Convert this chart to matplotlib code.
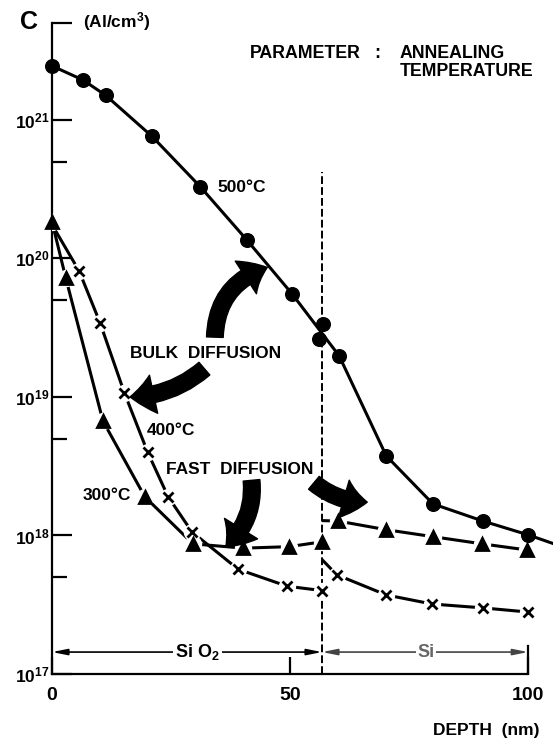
import numpy as np
import matplotlib
matplotlib.use('Agg')
import matplotlib.pyplot as plt
from matplotlib.patches import FancyArrowPatch

plt.rcParams['font.family'] = ['Liberation Sans', 'DejaVu Sans']
plt.rcParams['font.weight'] = 'bold'
plt.rcParams['mathtext.fontset'] = 'custom'
plt.rcParams['mathtext.rm'] = 'Liberation Sans:bold'
plt.rcParams['mathtext.bf'] = 'Liberation Sans:bold'
plt.rcParams['mathtext.it'] = 'Liberation Sans:bold'

# ---------------- data ----------------
interface_depth = 56.7

# 500 C (circles)
depth_500 = [0, 6.5, 11.3, 21.0, 31.1, 40.9, 50.4, 56.1, 57.0, 60.3, 70.2, 80.0, 90.5, 100.0]
conc_500 = [2.45e21, 1.94e21, 1.5e21, 7.6e20, 3.3e20, 1.36e20, 5.55e19, 2.6e19, 3.37e19,
            1.98e19, 3.75e18, 1.69e18, 1.27e18, 1.01e18]
tail_500_depth = [105.0]
tail_500_conc = [8.8e17]

# 300 C (triangles)
depth_300_ox = [0, 2.9, 10.7, 19.5, 29.6, 40.2, 49.8, 56.7]
conc_300_ox = [1.84e20, 7.2e19, 6.7e18, 1.9e18, 8.7e17, 8.1e17, 8.3e17, 9.0e17]
depth_300_si = [56.7, 60.1, 70.2, 80.0, 90.3, 99.8]
conc_300_si = [1.28e18, 1.27e18, 1.1e18, 9.8e17, 8.7e17, 7.85e17]

# 400 C (crosses)
depth_400_ox = [0, 5.7, 10.1, 15.2, 20.1, 24.4, 29.4, 39.1, 49.4, 56.7]
conc_400_ox = [1.75e20, 8.1e19, 3.42e19, 1.07e19, 3.98e18, 1.9e18, 1.06e18, 5.7e17, 4.3e17, 4.0e17]
depth_400_si = [56.7, 59.8, 70.2, 79.8, 90.5, 100.0]
conc_400_si = [6.7e17, 5.2e17, 3.72e17, 3.2e17, 3.0e17, 2.8e17]

y_major = [1e17, 1e18, 1e19, 1e20, 1e21, 5e21]
y_major_labels = ['$10^{17}$', '$10^{18}$', '$10^{19}$', '$10^{20}$', '$10^{21}$', '']
y_minor = [5e17, 5e18, 5e19, 5e20]
x_ticks = [0, 50, 100]
x_tick_labels = ['0', '50', '100']

# ---------------- figure ----------------
W, H = 553, 741
fig = plt.figure(figsize=(W / 100, H / 100), dpi=100)
ax = fig.add_axes([52 / W, 1 - 674 / H, 500 / W, (674 - 23) / H])
ax.set_yscale('log')
ax.set_xlim(0, 105)
ax.set_ylim(1e17, 5e21)

for s in ['top', 'right']:
    ax.spines[s].set_visible(False)
ax.spines['left'].set_bounds(1e17, 5e21)
ax.spines['bottom'].set_bounds(0, 100)
for s in ['left', 'bottom']:
    ax.spines[s].set_linewidth(1.6)

ax.set_yticks(y_major)
ax.set_yticklabels(y_major_labels)
ax.set_yticks(y_minor, minor=True)
ax.yaxis.set_minor_formatter(matplotlib.ticker.NullFormatter())
ax.tick_params(axis='y', which='major', direction='in', length=14.5, width=1.6,
               labelsize=12.5, pad=2)
ax.tick_params(axis='y', which='minor', direction='in', length=11, width=1.6)
ax.set_xticks(x_ticks)
ax.set_xticklabels(x_tick_labels)
ax.tick_params(axis='x', which='major', direction='in', length=12, width=1.6,
               labelsize=14, pad=9)
ax.tick_params(axis='x', which='minor', length=0)

lw = 2.2
# 500 C
d5 = np.array(depth_500)
c5 = np.array(conc_500)
mask = np.abs(d5 - interface_depth) > 1.0
ax.plot(np.r_[d5[mask], tail_500_depth], np.r_[c5[mask], tail_500_conc],
        color='black', lw=lw, zorder=2, clip_on=False)
ax.plot(d5, c5, 'o', color='black', ms=9.8, zorder=5, clip_on=False)

# 300 C and 400 C
for dx, cy, mk, ms, first_marker in [
        (depth_300_ox, conc_300_ox, '^', 8.5, 0),
        (depth_300_si, conc_300_si, '^', 8.5, 1),
        (depth_400_ox, conc_400_ox, 'x', 7.5, 1),
        (depth_400_si, conc_400_si, 'x', 7.5, 1)]:
    ax.plot(dx, cy, color='black', lw=lw, zorder=2, solid_capstyle='butt')
    ax.plot(dx[first_marker:], cy[first_marker:], 'o', color='white', ms=11.5, zorder=3)
    ax.plot(dx[first_marker:], cy[first_marker:], mk, color='black', ms=ms, mew=2.0,
            zorder=4, clip_on=False)

# interface dashed line
ax.plot([interface_depth, interface_depth], [1e17, 4.2e20], color='black', lw=1.4,
        dashes=(4, 1.6), zorder=1)

# layer brackets
ybr = 1.44e17
ax.annotate('', xy=(0, ybr), xytext=(interface_depth, ybr),
            arrowprops=dict(arrowstyle='<|-|>,head_length=0.9,head_width=0.18',
                            color='black', lw=1.2, shrinkA=0, shrinkB=0))
ax.annotate('', xy=(interface_depth, ybr), xytext=(100, ybr),
            arrowprops=dict(arrowstyle='<|-|>,head_length=0.9,head_width=0.18',
                            color='#444444', lw=1.2, shrinkA=0, shrinkB=0))
ax.plot([100, 100], [1e17, 1.6e17], color='black', lw=1.6)
ax.text(30.5, ybr, 'Si O$_2$', ha='center', va='center', fontsize=13,
        bbox=dict(facecolor='white', edgecolor='none', pad=1.5), zorder=6)
ax.text(78.5, ybr, 'Si', ha='center', va='center', fontsize=13, color='#666666',
        bbox=dict(facecolor='white', edgecolor='none', pad=1.0), zorder=6)

# big curved arrows
def big_arrow(p0, p1, rad):
    a = FancyArrowPatch(p0, p1, connectionstyle=f'arc3,rad={rad}',
                        arrowstyle='simple,head_length=1.7,head_width=2.8,tail_width=1.2',
                        mutation_scale=10, color='black', shrinkA=0, shrinkB=0, zorder=6)
    ax.add_patch(a)

big_arrow((34.2, 2.7e19), (45.2, 8.6e19), -0.35)
big_arrow((32.0, 1.6e19), (16.4, 1.0e19), -0.18)
big_arrow((41.9, 2.5e18), (36.5, 8.3e17), -0.25)
big_arrow((55.0, 2.4e18), (66.2, 1.74e18), 0.18)

# curve labels
lab = dict(fontsize=12.5, ha='left', va='center', zorder=7)
ax.text(34.7, 3.24e20, '500°C', **lab)
ax.text(16.4, 2.05e19, 'BULK  DIFFUSION', **lab)
ax.text(20.0, 5.7e18, '400°C', **lab)
ax.text(23.9, 2.97e18, 'FAST  DIFFUSION', **lab)
ax.text(6.5, 1.93e18, '300°C', **lab)

# figure texts
def px(x, y):
    return x / W, 1 - y / H

fig.text(*px(20, 22), 'C', fontsize=18, ha='left', va='center')
fig.text(*px(83, 22), '(Al/cm$^3$)', fontsize=12.5, ha='left', va='center')
fig.text(*px(250, 54), 'PARAMETER', fontsize=12.8, ha='left', va='center')
fig.text(*px(377, 54), ':', fontsize=12.8, ha='center', va='center')
fig.text(*px(400, 54), 'ANNEALING', fontsize=12.8, ha='left', va='center')
fig.text(*px(400, 72), 'TEMPERATURE', fontsize=12.8, ha='left', va='center')
fig.text(*px(433, 730), 'DEPTH  (nm)', fontsize=12.5, ha='left', va='center')

fig.savefig('out.png', dpi=100)
